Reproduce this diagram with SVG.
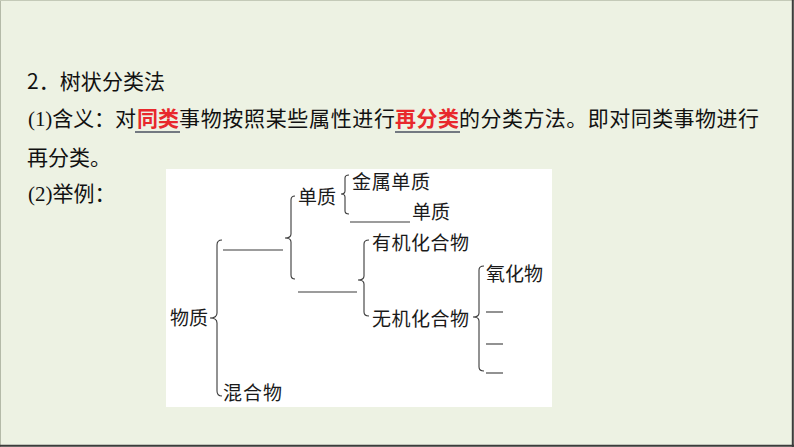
<svg xmlns="http://www.w3.org/2000/svg" width="794" height="447" viewBox="0 0 794 447">
<style>
.hd{font-family:"Noto Sans CJK SC","Noto Sans",sans-serif;font-size:21px;fill:#111}
.sr{font-family:"Liberation Serif",serif}
.em{font-weight:bold;fill:#e8282c}
.tr{font-family:"Noto Sans CJK SC","Noto Sans",sans-serif;font-size:19px;fill:#1a1a1a}
.ln{stroke:#3a3a3a;stroke-width:1.1;fill:none}
.ul{stroke:#4a5060;stroke-width:1.5}
</style>
<rect x="0" y="0" width="794" height="447" fill="#edf2e3"/>
<line x1="0.5" y1="0" x2="0.5" y2="447" stroke="#b4baa8" stroke-width="1"/>
<line x1="0" y1="0.5" x2="794" y2="0.5" stroke="#c4cab8" stroke-width="1"/>
<line x1="792.8" y1="0" x2="792.8" y2="447" stroke="#3c3c3c" stroke-width="2"/>
<line x1="0" y1="445.8" x2="794" y2="445.8" stroke="#3c3c3c" stroke-width="2"/>

<g id="header">
<text class="hd" x="27" y="89" textLength="138" lengthAdjust="spacing">2．树状分类法</text>
<text class="hd" x="28" y="126" textLength="108" lengthAdjust="spacing"><tspan class="sr">(1)</tspan>含义：对</text>
<text class="hd em" x="137" y="126" textLength="42" lengthAdjust="spacing">同类</text>
<text class="hd" x="179" y="126" textLength="216" lengthAdjust="spacing">事物按照某些属性进行</text>
<text class="hd em" x="395" y="126" textLength="64" lengthAdjust="spacing">再分类</text>
<text class="hd" x="459" y="126" textLength="300" lengthAdjust="spacing">的分类方法。即对同类事物进行</text>
<line class="ul" x1="135" y1="132" x2="180" y2="132"/>
<line class="ul" x1="395" y1="132" x2="460" y2="132"/>
<text class="hd" x="27" y="165">再分类。</text>
<text class="hd" x="28" y="201"><tspan class="sr">(2)</tspan>举例：</text>
</g>

<rect id="panel" x="166" y="169" width="386" height="238" fill="#ffffff"/>

<g id="connectors">
<path class="ln" d="M222 240 Q217 240 217 245 L217 313 Q217 318 210 318 Q217 318 217 323 L217 391 Q217 396 222 396"/>
<path class="ln" d="M295 196 Q291 196 291 200 L291 234 Q291 238 285 238 Q291 238 291 242 L291 275 Q291 279 295 279"/>
<path class="ln" d="M349 175 Q345 175 345 178 L345 191 Q345 194 341 194 Q345 194 345 197 L345 211 Q345 214 349 214"/>
<path class="ln" d="M369 240 Q364 240 364 244 L364 276 Q364 280 358 280 Q364 280 364 284 L364 312 Q364 316 369 316"/>
<path class="ln" d="M484 266 Q479 266 479 270 L479 313 Q479 317 473 317 Q479 317 479 321 L479 367 Q479 371 484 371"/>
<line class="ln" x1="223" y1="250" x2="283" y2="250"/>
<line class="ln" x1="298" y1="292" x2="357" y2="292"/>
<line class="ln" x1="350" y1="222" x2="410" y2="222"/>
<line class="ln" x1="486" y1="312" x2="503" y2="312"/>
<line class="ln" x1="486" y1="344" x2="503" y2="344"/>
<line class="ln" x1="486" y1="373" x2="503" y2="373"/>
</g>

<g id="node-wuzhi"><text class="tr" x="170" y="325" textLength="38" lengthAdjust="spacing">物质</text></g>
<g id="node-hunhewu"><text class="tr" x="223" y="400" textLength="59" lengthAdjust="spacing">混合物</text></g>
<g id="node-danzhi"><text class="tr" x="298" y="204" textLength="38" lengthAdjust="spacing">单质</text></g>
<g id="node-jinshu"><text class="tr" x="352" y="189" textLength="78" lengthAdjust="spacing">金属单质</text></g>
<g id="node-feijinshu"><text class="tr" x="412" y="219" textLength="38" lengthAdjust="spacing">单质</text></g>
<g id="node-youji"><text class="tr" x="372" y="250" textLength="97" lengthAdjust="spacing">有机化合物</text></g>
<g id="node-wuji"><text class="tr" x="372" y="326" textLength="97" lengthAdjust="spacing">无机化合物</text></g>
<g id="node-yanghuawu"><text class="tr" x="486" y="281" textLength="57" lengthAdjust="spacing">氧化物</text></g>
</svg>
